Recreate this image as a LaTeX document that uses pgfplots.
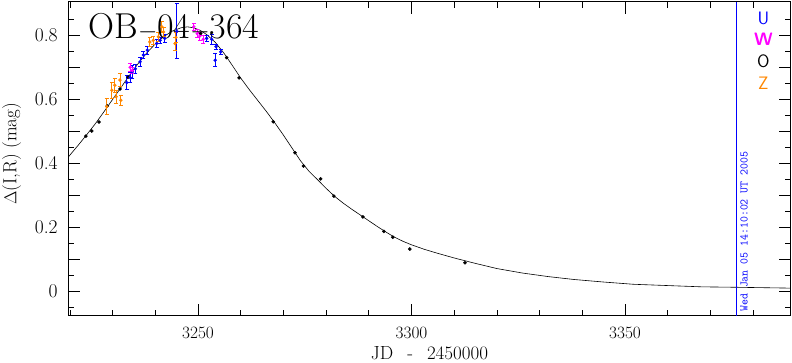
\documentclass[border=0pt]{standalone}
\usepackage{pgfplots}
\pgfplotsset{compat=1.18}
\definecolor{zorange}{RGB}{255,135,0}
\definecolor{wmag}{RGB}{255,0,255}
\definecolor{ublue}{RGB}{0,0,255}

\pgfplotstableread{
x y
3219.6 0.420
3222 0.458
3224 0.491
3226 0.525
3228 0.562
3230 0.600
3232 0.638
3234 0.676
3236 0.712
3238 0.745
3240 0.773
3242 0.796
3244 0.813
3246 0.823
3247.5 0.826
3249 0.823
3250.5 0.815
3252 0.802
3254 0.778
3256 0.745
3258 0.706
3260 0.666
3262 0.630
3264 0.596
3266 0.562
3268 0.526
3270 0.488
3272 0.448
3274 0.408
3276 0.375
3278 0.349
3280 0.322
3282 0.297
3284 0.276
3286 0.257
3288 0.239
3290 0.221
3292 0.203
3294 0.186
3296 0.170
3298 0.157
3300 0.146
3303 0.132
3306 0.120
3310 0.105
3315 0.088
3320 0.072
3326 0.058
3332 0.047
3338 0.038
3345 0.030
3352 0.023
3360 0.019
3368 0.015
3376 0.0137
3388.8 0.011
}\curve

\pgfplotstableread{
x y
3223.7 0.485
3225.1 0.501
3226.8 0.529
3228.7 0.579
3231.7 0.632
3233.6 0.669
3250.6 0.805
3256.7 0.730
3259.6 0.667
3267.6 0.530
3272.7 0.433
3274.7 0.392
3278.7 0.352
3281.8 0.298
3288.6 0.233
3293.5 0.188
3295.6 0.170
3299.6 0.133
3312.5 0.090
}\odata

\pgfplotstableread{
x y e
3233.3 0.652 0.022
3234.1 0.668 0.015
3234.6 0.686 0.020
3235.3 0.695 0.015
3236.4 0.717 0.015
3237.2 0.738 0.012
3238.1 0.753 0.012
3240.3 0.774 0.012
3241.1 0.784 0.010
3242.2 0.790 0.012
3245.0 0.812 0.086
3252.0 0.790 0.010
3253.2 0.787 0.015
3254.2 0.764 0.008
3255.3 0.748 0.008
3254.0 0.722 0.020
}\udata

\pgfplotstableread{
x y e
3234.1 0.700 0.012
3234.6 0.690 0.010
3249.0 0.826 0.012
3249.8 0.805 0.012
3250.4 0.797 0.012
3251.2 0.787 0.012
}\wdata

\pgfplotstableread{
x y e
3228.6 0.577 0.025
3229.8 0.628 0.025
3230.5 0.644 0.022
3230.8 0.608 0.020
3231.7 0.660 0.020
3231.9 0.597 0.015
3238.7 0.779 0.015
3239.5 0.784 0.012
3240.7 0.795 0.015
3241.5 0.826 0.018
3241.9 0.810 0.015
3244.6 0.774 0.020
3244.8 0.793 0.015
}\zdata

\begin{document}
\begin{tikzpicture}
\path[use as bounding box] (0,0) rectangle (792pt,362pt);
\begin{axis}[
  at={(68.3pt,46.3pt)}, anchor=south west,
  width=722.4pt, height=314.2pt, scale only axis,
  xmin=3219.6, xmax=3388.8, ymin=-0.075, ymax=0.905,
  xtick={3250,3300,3350},
  minor xtick={3220,3230,3240,3260,3270,3280,3290,3310,3320,3330,3340,3360,3370,3380},
  ytick={0,0.1,0.2,0.3,0.4,0.5,0.6,0.7,0.8},
  yticklabels={0,,0.2,,0.4,,0.6,,0.8},
  minor ytick={-0.05,0.05,0.15,0.25,0.35,0.45,0.55,0.65,0.75,0.85},
  major tick length=12pt, minor tick length=6pt,
  tick align=inside,
  every tick/.style={black, line width=0.8pt},
  axis line style={line width=1.2pt},
  xticklabel style={anchor=base, yshift=-23pt, font=\fontsize{18.5}{20}\selectfont},
  yticklabel style={anchor=east, inner sep=0pt, xshift=-10.5pt, font=\fontsize{19.5}{22}\selectfont},
  /pgf/number format/.cd, 1000 sep={}, fixed, precision=1, /pgfplots/.cd,
  scaled x ticks=false,
  xlabel={JD\hspace{14pt}-\hspace{14pt}2450000},
  xlabel style={at={(axis description cs:0.5,0)}, anchor=base, yshift=-43.5pt, font=\fontsize{19}{21}\selectfont},
  ylabel={$\Delta$(I,R)\ (mag)},
  ylabel style={at={(axis description cs:-0.0783,0.515)}, anchor=center, font=\fontsize{19}{21}\selectfont},
  clip=true,
]
\addplot[black, line width=0.6pt] table[x=x,y=y] {\curve};
\addplot[only marks, mark=*, mark size=1.6pt, black] table[x=x,y=y] {\odata};
\addplot[only marks, mark=*, mark size=1.5pt, ublue,
  error bars/.cd, y dir=both, y explicit,
  error bar style={line width=0.8pt},
  error mark options={rotate=90, mark size=2pt, line width=0.8pt}]
  table[x=x,y=y,y error=e] {\udata};
\addplot[only marks, mark=*, mark size=1.5pt, wmag,
  error bars/.cd, y dir=both, y explicit,
  error bar style={line width=0.8pt},
  error mark options={rotate=90, mark size=2pt, line width=0.8pt}]
  table[x=x,y=y,y error=e] {\wdata};
\addplot[only marks, mark=*, mark size=1.5pt, zorange,
  error bars/.cd, y dir=both, y explicit,
  error bar style={line width=0.8pt},
  error mark options={rotate=90, mark size=2pt, line width=0.8pt}]
  table[x=x,y=y,y error=e] {\zdata};
\addplot[ublue, line width=0.8pt] coordinates {(3376.1,-0.075) (3376.1,0.905)};
\node[anchor=base west, inner sep=0pt, font=\fontsize{36}{38}\selectfont] at (axis cs:3224.3,0.79) {OB$-$04$-$364};
\node[rotate=90, anchor=north west, inner sep=0pt, text=ublue, font=\ttfamily\fontsize{11.5}{13}\selectfont] at (axis cs:3377.0,-0.063) {Wed Jan 05 14:10:02 UT 2005};
\node[text=ublue, font=\sffamily\fontsize{18}{20}\selectfont] at (axis cs:3382.4,0.853) {U};
\node[text=wmag, font=\sffamily\bfseries\fontsize{18}{20}\selectfont] at (axis cs:3382.4,0.787) {W};
\node[text=black, font=\sffamily\fontsize{18}{20}\selectfont] at (axis cs:3382.4,0.719) {O};
\node[text=zorange, font=\sffamily\fontsize{18}{20}\selectfont] at (axis cs:3382.4,0.650) {Z};
\end{axis}
\end{tikzpicture}
\end{document}
